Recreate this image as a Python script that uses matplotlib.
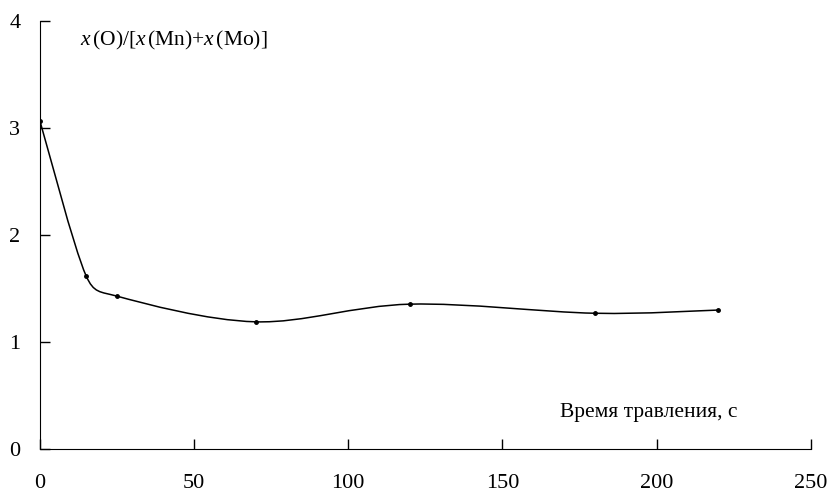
import numpy as np
import matplotlib.pyplot as plt
from matplotlib.path import Path
from matplotlib.patches import PathPatch

plt.rcParams['font.family'] = ['Liberation Serif', 'DejaVu Serif']
plt.rcParams['mathtext.fontset'] = 'custom'
plt.rcParams['mathtext.rm'] = 'Liberation Serif'
plt.rcParams['mathtext.it'] = 'Liberation Serif:italic'

# данные
time_s = [0, 15, 25, 70, 120, 180, 220]
ratio = [3.07, 1.62, 1.43, 1.19, 1.355, 1.27, 1.30]
x_ticks = [0, 50, 100, 150, 200, 250]
y_ticks = [0, 1, 2, 3, 4]


def smooth_path(ax, xs, ys):
    """Сглаженная кривая Безье в экранных координатах (примерно как в Excel)."""
    p = ax.transData.transform(np.column_stack([xs, ys]).astype(float))
    ext = np.vstack([p[0], p, p[-1]])
    verts = [p[0]]
    codes = [Path.MOVETO]
    for i in range(len(p) - 1):
        p0, p1, p2, p3 = ext[i], ext[i + 1], ext[i + 2], ext[i + 3]
        t1 = (p2 - p0) / 6
        t2 = (p3 - p1) / 6
        chord = np.linalg.norm(p2 - p1)
        s = np.linalg.norm(t1) + np.linalg.norm(t2)
        if s > chord:
            t1 = t1 * chord / s
            t2 = t2 * chord / s
        verts += [p1 + t1, p2 - t2, p2]
        codes += [Path.CURVE4] * 3
    verts = ax.transData.inverted().transform(np.array(verts))
    return Path(verts, codes)


fig = plt.figure(figsize=(8.3, 4.93), dpi=100)
ax = fig.add_axes([0.048, 0.089, 0.929, 0.868])
ax.set_xlim(0, 250)
ax.set_ylim(0, 4)

ax.add_patch(PathPatch(smooth_path(ax, time_s, ratio), fill=False, lw=1.1, color='black'))
ax.plot(time_s, ratio, 'o', color='black', ms=2.5, ls='none')

ax.set_xticks(x_ticks)
ax.set_yticks(y_ticks)
ax.spines['top'].set_visible(False)
ax.spines['right'].set_visible(False)
ax.tick_params(direction='in', length=7, width=1, labelsize=16)
ax.tick_params(axis='x', pad=18)
ax.tick_params(axis='y', pad=14)

ax.text(0.052, 0.955, r'$x\,$(O)/[$x\,$(Mn)+$x\,$(Mo)]', transform=ax.transAxes,
        fontsize=15.5, va='center', ha='left')
ax.text(0.674, 0.086, 'Время травления, с', transform=ax.transAxes,
        fontsize=15.5, va='center', ha='left')

fig.savefig('out.png', dpi=100)
